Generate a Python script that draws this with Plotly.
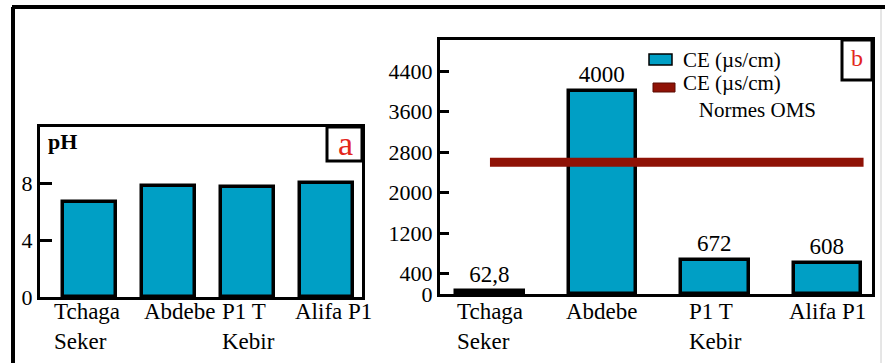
import plotly.graph_objects as go

# Sites, pH and electrical conductivity (CE) values
categories = ["Tchaga<br>Seker", "Abdebe", "P1 T<br>Kebir", "Alifa P1"]
ph_values = [6.7, 7.8, 7.7, 8.0]
ce_values = [62.8, 4000, 672, 608]
ce_oms_norm = 2600
ph_ticks = [0, 4, 8]
ce_ticks = [0, 400, 1200, 2000, 2800, 3600, 4400]
legend_labels = ["CE (\u00b5s/cm)", "CE (\u00b5s/cm)<br>   Normes OMS"]

W, H = 885, 363
BLUE = "#009FC5"
RED = "#8F1206"
FONT = "Liberation Serif"


def px(x):
    return x / W


def py(y):
    return 1 - y / H


def fmt(v):
    return f"{v:g}".replace(".", ",")


pos = list(range(len(categories)))

fig = go.Figure()

# Panel a: pH bars
fig.add_trace(go.Bar(
    x=pos, y=ph_values, width=0.66,
    marker=dict(color=BLUE, line=dict(color="black", width=3.5)),
    xaxis="x", yaxis="y", showlegend=False,
))

# Panel b: CE bars with value labels
fig.add_trace(go.Bar(
    x=pos, y=ce_values, width=0.6,
    marker=dict(color=BLUE, line=dict(color="black", width=3.5)),
    text=[fmt(v) for v in ce_values], textposition="outside",
    textfont=dict(family=FONT, size=23, color="black"),
    cliponaxis=False, constraintext="none",
    xaxis="x2", yaxis="y2", showlegend=False,
))

# WHO norm for CE
fig.add_trace(go.Scatter(
    x=[pos[0], pos[-1] + 0.32], y=[ce_oms_norm, ce_oms_norm],
    mode="lines", line=dict(color=RED, width=9),
    xaxis="x2", yaxis="y2", showlegend=False,
))

axis_common = dict(
    showline=True, mirror=True, linecolor="black", linewidth=3,
    showgrid=False, zeroline=False, automargin=False,
)

fig.update_layout(
    template="none",
    width=W, height=H,
    margin=dict(l=0, r=0, t=0, b=0, pad=0),
    paper_bgcolor="white", plot_bgcolor="white",
    font=dict(family=FONT, size=22, color="black"),
    bargap=0,
    xaxis=dict(domain=[px(40), px(362)], range=[-0.627, 3.45], anchor="y",
               showticklabels=False, ticks="", **axis_common),
    yaxis=dict(domain=[py(297), py(127)], range=[0, 11.93], anchor="x",
               tickvals=ph_ticks, ticks="inside", ticklen=12, tickwidth=3,
               tickcolor="black", tickfont=dict(size=22), **axis_common),
    xaxis2=dict(domain=[px(440), px(872)], range=[-0.444, 3.395], anchor="y2",
                showticklabels=False, ticks="", **axis_common),
    yaxis2=dict(domain=[py(294), py(40)], range=[0, 5017], anchor="x2",
                tickvals=ce_ticks, ticks="inside", ticklen=9, tickwidth=3,
                tickcolor="black", tickfont=dict(size=22), **axis_common),
)

shapes = [
    # outer frame
    dict(type="line", xref="paper", yref="paper", x0=px(12), x1=1, y0=py(7), y1=py(7),
         line=dict(color="black", width=4)),
    dict(type="line", xref="paper", yref="paper", x0=px(13), x1=px(13), y0=py(7), y1=0,
         line=dict(color="black", width=4)),
    dict(type="line", xref="paper", yref="paper", x0=px(881), x1=px(881), y0=py(9), y1=0,
         line=dict(color="#cccccc", width=1)),
    # panel letter boxes
    dict(type="rect", xref="paper", yref="paper", x0=px(327), x1=px(362), y0=py(161), y1=py(127),
         line=dict(color="black", width=3), fillcolor="white"),
    dict(type="rect", xref="paper", yref="paper", x0=px(842), x1=px(872), y0=py(80), y1=py(40),
         line=dict(color="black", width=3), fillcolor="white"),
    # legend keys
    dict(type="rect", xref="paper", yref="paper", x0=px(649), x1=px(672), y0=py(65), y1=py(54),
         line=dict(color="black", width=1.5), fillcolor=BLUE),
    dict(type="rect", xref="paper", yref="paper", x0=px(653), x1=px(675), y0=py(92), y1=py(83),
         line=dict(color="#5a0a03", width=1), fillcolor=RED),
]

annotations = [
    dict(text="<b>pH</b>", xref="paper", yref="paper", x=px(46), y=py(141),
         xanchor="left", yanchor="middle", showarrow=False, font=dict(size=22)),
    dict(text="a", xref="paper", yref="paper", x=px(345), y=py(143),
         xanchor="center", yanchor="middle", showarrow=False,
         font=dict(size=34, color="#e3261b")),
    dict(text="b", xref="paper", yref="paper", x=px(857), y=py(58),
         xanchor="center", yanchor="middle", showarrow=False,
         font=dict(size=24, color="#e3261b")),
    dict(text=legend_labels[0], xref="paper", yref="paper", x=px(681), y=py(60),
         xanchor="left", yanchor="middle", showarrow=False, font=dict(size=21)),
    dict(text=legend_labels[1], xref="paper", yref="paper", x=px(681), y=py(97),
         xanchor="left", yanchor="middle", showarrow=False, align="left",
         font=dict(size=21)),
]

# category labels under both panels
label_shift_a = [-3, 11, 1, 7]
for i, name in enumerate(categories):
    annotations.append(dict(text=name, xref="x", yref="paper", x=pos[i], y=py(297),
                            xanchor="center", yanchor="top", align="left",
                            xshift=label_shift_a[i], showarrow=False,
                            font=dict(size=23)))
    annotations.append(dict(text=name, xref="x2", yref="paper", x=pos[i], y=py(297),
                            xanchor="center", yanchor="top", align="left",
                            showarrow=False, font=dict(size=23)))

fig.update_layout(shapes=shapes, annotations=annotations)

fig.write_html("out.html")
